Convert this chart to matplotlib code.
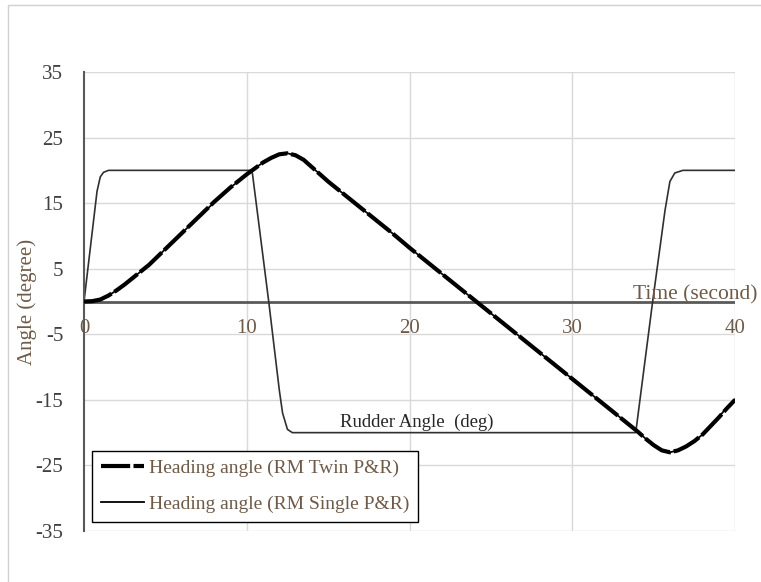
import matplotlib
matplotlib.use("Agg")
import matplotlib.pyplot as plt
from matplotlib.patches import Rectangle

plt.rcParams['font.family'] = ['Liberation Serif', 'DejaVu Serif']

# ---- data ----
time_heading = [0, 0.5, 1, 1.5, 2, 2.5, 3, 3.5, 4, 5, 6, 7, 8, 9, 10, 10.5, 11, 11.5,
                12, 12.5, 13, 13.5, 14, 15, 16, 17, 18, 19, 20, 21, 22, 23, 24, 25,
                26, 27, 28, 29, 30, 31, 32, 33, 34, 34.5, 35, 35.5, 36, 36.5, 37,
                37.5, 38, 38.5, 39, 39.5, 40]
heading_twin = [0, 0.05, 0.3, 0.9, 1.7, 2.6, 3.6, 4.6, 5.6, 8.0, 10.4, 12.8, 15.2, 17.4,
                19.4, 20.3, 21.2, 21.9, 22.45, 22.6, 22.3, 21.6, 20.5, 18.3, 16.3,
                14.3, 12.3, 10.3, 8.2, 6.2, 4.2, 2.2, 0.2, -1.8, -3.8, -5.8, -7.8,
                -9.8, -11.8, -13.8, -15.8, -17.8, -19.8, -20.9, -21.9, -22.7, -23.0,
                -22.7, -22.1, -21.3, -20.3, -19.0, -17.7, -16.3, -15.0]
heading_single = [0, 0.05, 0.3, 0.9, 1.7, 2.6, 3.6, 4.6, 5.6, 8.0, 10.4, 12.8, 15.1,
                  17.4, 19.3, 20.3, 21.2, 21.9, 22.45, 22.6, 22.3, 21.6, 20.5, 18.3,
                  16.3, 14.3, 12.3, 10.3, 8.2, 6.2, 4.2, 2.2, 0.2, -1.8, -3.8, -5.8,
                  -7.8, -9.8, -11.8, -13.8, -15.8, -17.8, -19.8, -20.9, -21.9, -22.7,
                  -23.0, -22.7, -22.1, -21.3, -20.3, -19.0, -17.6, -16.2, -14.9]

time_rudder = [0, 0.5, 0.8, 1.0, 1.2, 1.5, 10.25, 10.35, 11.35, 12.0, 12.2, 12.5, 12.8,
               33.9, 34.94, 35.7, 36.0, 36.3, 36.8, 40]
rudder_angle = [0, 10.5, 16.8, 19.0, 19.7, 20.0, 20.0, 19.5, 0, -13.5, -17.0, -19.5,
                -20.0, -20.0, 0, 13.9, 18.3, 19.6, 20.0, 20.0]

x_ticks = [0, 10, 20, 30, 40]
y_ticks = [-35, -25, -15, -5, 5, 15, 25, 35]

label_twin = "Heading angle (RM Twin P&R)"
label_single = "Heading angle (RM Single P&R)"
rudder_label = "Rudder Angle  (deg)"
x_title = "Time (second)"
y_title = "Angle (degree)"

brown = '#6f5a48'
grey = '#595959'

fig = plt.figure(figsize=(7.61, 5.82), dpi=100)
fig.patches.append(Rectangle((8/761, -0.2), 1.2, 0.2 + 1 - 5/582,
                             transform=fig.transFigure, fill=False,
                             edgecolor='#d0d0d0', linewidth=1.0))
ax = fig.add_axes([84/761, 51/582, 651/761, 459/582])

ax.set_xlim(0, 40)
ax.set_ylim(-35, 35)

# grid
for y in y_ticks:
    ax.axhline(y, color='#d9d9d9', lw=1.0, zorder=0)
for x in x_ticks[1:]:
    ax.axvline(x, color='#d9d9d9', lw=1.0, zorder=0)

for s in ['top', 'right', 'bottom']:
    ax.spines[s].set_visible(False)
ax.spines['left'].set_color(grey)
ax.spines['left'].set_linewidth(1.5)
ax.axhline(0, color=grey, lw=2.0, zorder=1)

ax.plot(time_rudder, rudder_angle, color='#303030', lw=1.2, zorder=2)
ln_s, = ax.plot(time_heading, heading_single, color='black', lw=1.3, zorder=3,
                label=label_single)
ln_t, = ax.plot(time_heading, heading_twin, color='black', lw=3.0, zorder=4,
                dashes=[7, 0.8], label=label_twin)

ax.set_yticks(y_ticks)
ax.set_yticklabels([str(v) for v in y_ticks])
ax.set_xticks([])
ax.tick_params(axis='y', length=0, pad=15, labelsize=15, labelcolor='#404040')

for x in x_ticks:
    ax.text(x, -4.1, str(x), ha='center', va='center', fontsize=15, color=brown)

ax.text(33.73, 0.35, x_title, ha='left', va='baseline', fontsize=15.5, color=brown,
        clip_on=False)
ax.text(15.73, -19.2, rudder_label, ha='left', va='baseline', fontsize=13.5,
        color='#262626')

ax.set_ylabel(y_title, fontsize=15, color=brown)
ax.yaxis.set_label_coords(-0.072, 0.5)

leg = ax.legend(handles=[ln_t, ln_s], loc='lower left',
                bbox_to_anchor=(0.0123, 0.0196), borderaxespad=0,
                fancybox=False, edgecolor='black', fontsize=14,
                handlelength=2.2, handletextpad=0.3, labelspacing=0.95,
                borderpad=0.45, framealpha=1)
leg.get_frame().set_linewidth(1.0)
for t in leg.get_texts():
    t.set_color(brown)

fig.savefig('out.png', dpi=100)
